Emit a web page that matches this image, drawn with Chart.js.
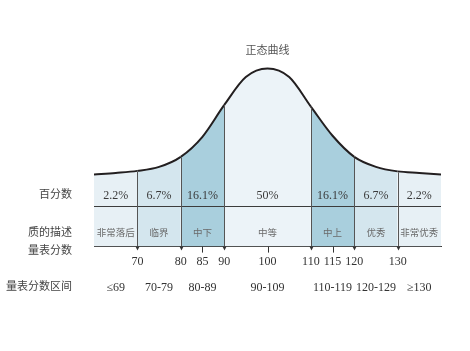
<!DOCTYPE html>
<html>
<head>
<meta charset="utf-8">
<script src="https://cdn.jsdelivr.net/npm/chart.js@4"></script>
<style>
  html, body { margin: 0; padding: 0; background: #fff; }
  #wrap { width: 470px; height: 351px; position: relative; }
</style>
</head>
<body>
<div id="wrap"><canvas id="chart"></canvas></div>
<script>
// curve: score -> height of the curve above the table bottom
const curveScores = [60, 65, 70, 75, 80, 85, 90, 95, 100, 105, 110, 115, 120, 125, 130, 135, 140];
const curveHeights = [72, 73.5, 75.5, 79.5, 89.5, 109.5, 141, 169, 177.5, 169, 139.5, 110.5, 89.5, 79.5, 75, 73.5, 72];

const bandEdges = [60, 70, 80, 90, 110, 120, 130, 140];
const percentLabels = ["2.2%", "6.7%", "16.1%", "50%", "16.1%", "6.7%", "2.2%"];
const qualityLabels = ["非常落后", "临界", "中下", "中等", "中上", "优秀", "非常优秀"];
const rangeLabels = ["≤69", "70-79", "80-89", "90-109", "110-119", "120-129", "≥130"];
const scoreTicks = [70, 80, 85, 90, 100, 110, 115, 120, 130];
const minorTicks = [85, 100, 115];

const bandColors = ["#e7f0f5", "#d4e6ee", "#a9cfdd", "#ecf3f8", "#a9cfdd", "#d4e6ee", "#e7f0f5"];
const serif = '"Liberation Serif", "Noto Sans CJK SC", serif';

const bandIndex = (v) => {
    for (let i = 0; i < bandEdges.length - 1; i++) {
        if (v >= bandEdges[i] && v < bandEdges[i + 1]) return i;
    }
    return bandEdges.length - 2;
};

const overlay = {
    id: "overlay",
    afterDatasetsDraw(chart) {
        const { ctx, chartArea: area, scales } = chart;
        const x = scales.x;
        const y = scales.y;
        const pts = chart.getDatasetMeta(0).data;
        ctx.save();

        // line between the percent row and the description row
        ctx.strokeStyle = "#3c3c3c";
        ctx.lineWidth = 1;
        const rowY = Math.round(y.getPixelForValue(40)) + 0.5;
        ctx.beginPath();
        ctx.moveTo(area.left, rowY);
        ctx.lineTo(area.right, rowY);
        ctx.stroke();

        // band dividers with small arrow heads
        ctx.strokeStyle = "#555";
        ctx.fillStyle = "#333";
        bandEdges.slice(1, -1).forEach((v) => {
            const i = curveScores.indexOf(v);
            const px = Math.round(x.getPixelForValue(v)) + 0.5;
            ctx.beginPath();
            ctx.moveTo(px, pts[i].y + 1);
            ctx.lineTo(px, area.bottom);
            ctx.stroke();
            ctx.beginPath();
            ctx.moveTo(px - 2, area.bottom);
            ctx.lineTo(px + 2, area.bottom);
            ctx.lineTo(px, area.bottom + 4);
            ctx.closePath();
            ctx.fill();
        });
        ctx.strokeStyle = "#333";
        minorTicks.forEach((v) => {
            const px = Math.round(x.getPixelForValue(v)) + 0.5;
            ctx.beginPath();
            ctx.moveTo(px, area.bottom);
            ctx.lineTo(px, area.bottom + 6);
            ctx.stroke();
        });

        // cell texts
        ctx.textAlign = "center";
        ctx.textBaseline = "middle";
        for (let i = 0; i < percentLabels.length; i++) {
            const cx = x.getPixelForValue((bandEdges[i] + bandEdges[i + 1]) / 2);
            ctx.fillStyle = "#3a3a3a";
            ctx.font = "12px " + serif;
            ctx.fillText(percentLabels[i], cx, y.getPixelForValue(51));
            ctx.fillStyle = "#6a6a6a";
            ctx.font = "9.5px " + serif;
            ctx.fillText(qualityLabels[i], cx, y.getPixelForValue(13));
            ctx.fillStyle = "#333";
            ctx.font = "12px " + serif;
            ctx.fillText(rangeLabels[i], cx, area.bottom + 41);
        }

        // row headers on the left
        const lx = area.left - 22;
        ctx.textAlign = "right";
        ctx.fillStyle = "#444";
        ctx.font = "11px " + serif;
        ctx.fillText("百分数", lx, y.getPixelForValue(51));
        ctx.fillText("质的描述", lx, y.getPixelForValue(13));
        ctx.fillText("量表分数", lx, area.bottom + 5);
        ctx.fillText("量表分数区间", lx, area.bottom + 41);

        // title
        ctx.textAlign = "center";
        ctx.fillStyle = "#555";
        ctx.fillText("正态曲线", x.getPixelForValue(100), 51);
        ctx.restore();
    }
};

new Chart(document.getElementById("chart"), {
    type: "line",
    data: {
        datasets: [
            {
                label: "正态曲线",
                data: curveScores.map((s, i) => ({ x: s, y: curveHeights[i] })),
                borderColor: "#231f20",
                borderWidth: 2,
                pointRadius: 0,
                cubicInterpolationMode: "monotone",
                fill: "origin",
                backgroundColor: bandColors[0],
                segment: {
                    backgroundColor: (c) => bandColors[bandIndex(c.p0.parsed.x)]
                }
            }
        ]
    },
    options: {
        responsive: true,
        maintainAspectRatio: false,
        animation: false,
        layout: { padding: { left: 94, right: 29, top: 46, bottom: 74 } },
        plugins: {
            legend: { display: false },
            tooltip: { enabled: false },
            title: { display: false }
        },
        scales: {
            x: {
                type: "linear",
                min: 60,
                max: 140,
                z: 1,
                afterBuildTicks: (scale) => {
                    scale.ticks = scoreTicks.map((v) => ({ value: v }));
                },
                grid: { display: false, drawTicks: false },
                border: { display: true, color: "#3c3c3c", width: 1 },
                ticks: {
                    autoSkip: false,
                    maxRotation: 0,
                    padding: 8,
                    color: "#333",
                    font: { family: serif, size: 12 }
                }
            },
            y: {
                display: false,
                min: 0,
                max: 200
            }
        }
    },
    plugins: [overlay]
});
</script>
</body>
</html>
